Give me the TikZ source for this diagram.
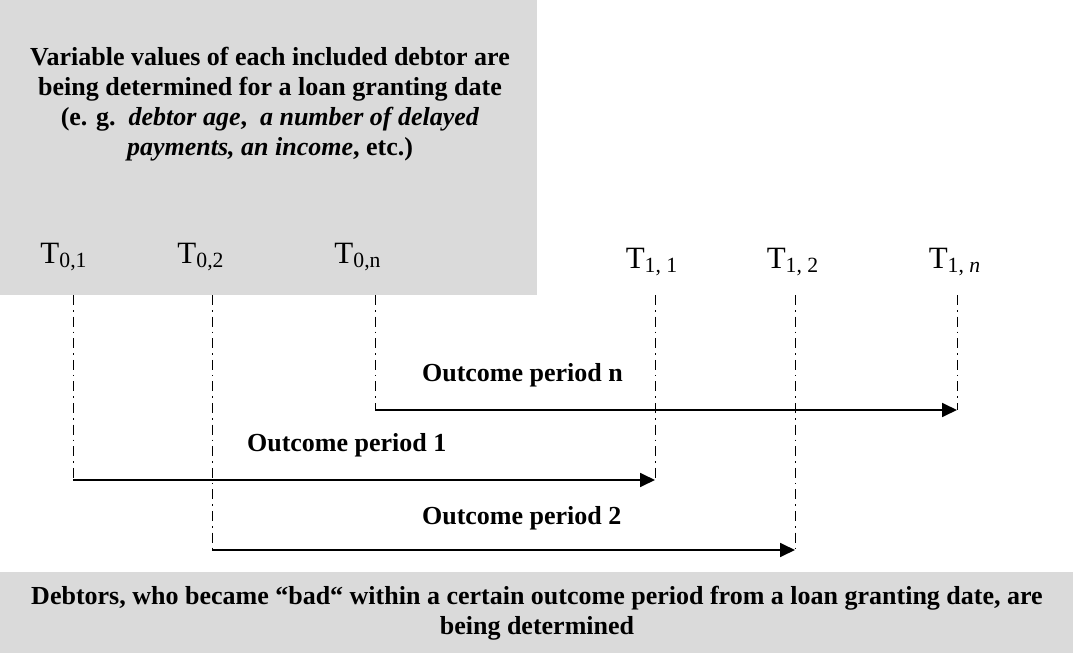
\documentclass[tikz,border=0pt]{standalone}
\usepackage{fontspec}
\setmainfont{Liberation Serif}
\usetikzlibrary{arrows.meta, positioning}
\definecolor{boxgray}{RGB}{218, 218, 218}

\begin{document}
\begin{tikzpicture}[
    x=0.5pt, y=-0.5pt,
    panel/.style={fill=boxgray, draw=none},
    note/.style={align=center, font=\bfseries\fontsize{13}{15}\selectfont},
    tick/.style={anchor=base, inner sep=0pt, font=\fontsize{15.5}{18}\selectfont},
    guide/.style={thin, dash pattern=on 5pt off 2.5pt on 0.8pt off 2.5pt},
    period/.style={line width=0.9pt, -{Triangle[length=7.5pt, width=7pt]}},
    plabel/.style={anchor=west, font=\bfseries\fontsize{13}{15}\selectfont}
]
\useasboundingbox (0,0) rectangle (1073,653);

% === Cajas grises ===
\fill[panel] (0,0) rectangle (537,295);
\fill[panel] (0,572) rectangle (1073,653);

\node[note] (vars) at (270,104) {Variable values of each included debtor are\\
    being determined for a loan granting date\\
    (e. g.\ \ \textit{debtor age}, \ \textit{a number of delayed}\\
    \textit{payments, an income}, etc.)};
\node[note] (bad) at (537,613) {Debtors, who became “bad“ within a certain outcome period from a loan granting date, are\\
    being determined};

% === Fechas ===
\node[tick] (t01) at (64,263) {T\textsubscript{0,1}};
\node[tick] (t02) at (201,263) {T\textsubscript{0,2}};
\node[tick] (t0n) at (358,263) {T\textsubscript{0,n}};
\node[tick] (t11) at (652,268) {T\textsubscript{1, 1}};
\node[tick] (t12) at (793,268) {T\textsubscript{1, 2}};
\node[tick] (t1n) at (955,268) {T\textsubscript{1, \textit{n}}};

% === Lineas guia ===
\coordinate (s1) at (73,295);   \coordinate (a1) at (73,480);
\coordinate (s2) at (212,295);  \coordinate (a2) at (212,550);
\coordinate (sn) at (375,295);  \coordinate (an) at (375,410);
\coordinate (f1) at (655,295);  \coordinate (b1) at (655,480);
\coordinate (f2) at (795,295);  \coordinate (b2) at (795,550);
\coordinate (fn) at (957,295);  \coordinate (bn) at (957,410);

\foreach \p/\q in {s1/a1, s2/a2, sn/an, f1/b1, f2/b2, fn/bn}
    \draw[guide] (\p) -- (\q);

% === Periodos ===
\draw[period] (an) -- (bn);
\draw[period] (a1) -- (b1);
\draw[period] (a2) -- (b2);

\node[plabel] (pn) at (415,375) {Outcome period n};
\node[plabel] (p1) at (240,445) {Outcome period 1};
\node[plabel] (p2) at (415,518) {Outcome period 2};

\end{tikzpicture}
\end{document}
